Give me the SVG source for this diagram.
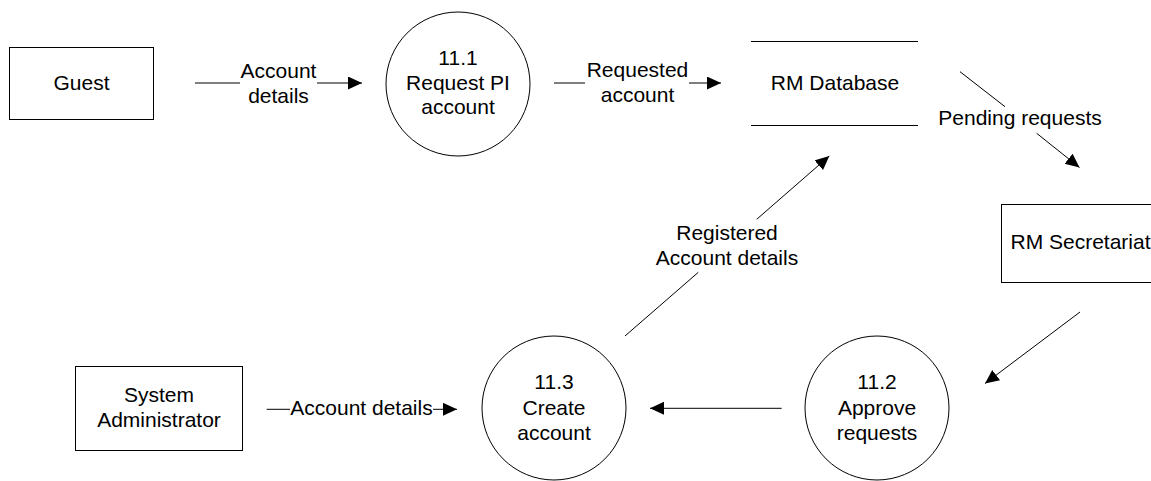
<svg xmlns="http://www.w3.org/2000/svg" width="1151" height="481" viewBox="0 0 1151 481">
<style>
text{font-family:"Liberation Sans",Arial,sans-serif;font-size:21px;fill:#000;text-anchor:middle}
.box{fill:#fff;stroke:#000;stroke-width:1}
.proc{fill:#fff;stroke:#000;stroke-width:1}
.flow{fill:none;stroke:#000;stroke-width:1}
</style>
<defs>
<marker id="ah" markerUnits="userSpaceOnUse" markerWidth="15" markerHeight="14" viewBox="0 0 15 14" refX="14" refY="6.5" orient="auto">
<path d="M0,0 L14,6.5 L0,13 z" fill="#000"/>
</marker>
</defs>
<g id="guest">
<rect class="box" x="9.5" y="47.5" width="144" height="72"/>
<text x="81.5" y="90">Guest</text>
</g>
<g id="p11_1">
<circle class="proc" cx="458" cy="84" r="72"/>
<text x="458" y="64.5">11.1</text>
<text x="458" y="89.5">Request PI</text>
<text x="458" y="114">account</text>
</g>
<g id="rm_database">
<line class="flow" x1="751" y1="41.5" x2="918" y2="41.5"/>
<line class="flow" x1="751" y1="125.5" x2="918" y2="125.5"/>
<text x="835" y="90">RM Database</text>
</g>
<g id="rm_secretariat">
<rect class="box" x="1001.5" y="204.5" width="158" height="78"/>
<text x="1080.5" y="249">RM Secretariat</text>
</g>
<g id="p11_2">
<circle class="proc" cx="877" cy="408" r="72"/>
<text x="877" y="389">11.2</text>
<text x="877" y="414.5">Approve</text>
<text x="877" y="439.5">requests</text>
</g>
<g id="p11_3">
<circle class="proc" cx="554" cy="408" r="72"/>
<text x="554" y="389">11.3</text>
<text x="554" y="414.5">Create</text>
<text x="554" y="439.5">account</text>
</g>
<g id="sys_admin">
<rect class="box" x="75.5" y="366.5" width="167" height="84"/>
<text x="159" y="401.5">System</text>
<text x="159" y="426.5">Administrator</text>
</g>
<g id="connectors">
<path class="flow" d="M195,83 H240 M317,83 H362" marker-end="url(#ah)"/>
<text x="278.5" y="77.5">Account</text>
<text x="278.5" y="102.5">details</text>
<path class="flow" d="M554,83 H585 M689,83 H721" marker-end="url(#ah)"/>
<text x="637.5" y="77">Requested</text>
<text x="637.5" y="102">account</text>
<path class="flow" d="M960,71.7 L1005,106.7 M1036.7,133.3 L1079.5,167.5" marker-end="url(#ah)"/>
<text x="1020" y="125">Pending requests</text>
<path class="flow" d="M1080,312 L985,383.5" marker-end="url(#ah)"/>
<path class="flow" d="M781.7,408.3 L650,408.3" marker-end="url(#ah)"/>
<path class="flow" d="M625,336 L698.3,272.3 M756.7,219.3 L829.3,156" marker-end="url(#ah)"/>
<text x="727" y="240">Registered</text>
<text x="727" y="264.5">Account details</text>
<path class="flow" d="M266.7,409.3 H290 M433,409.3 H457" marker-end="url(#ah)"/>
<text x="361.5" y="415">Account details</text>
</g>
</svg>
